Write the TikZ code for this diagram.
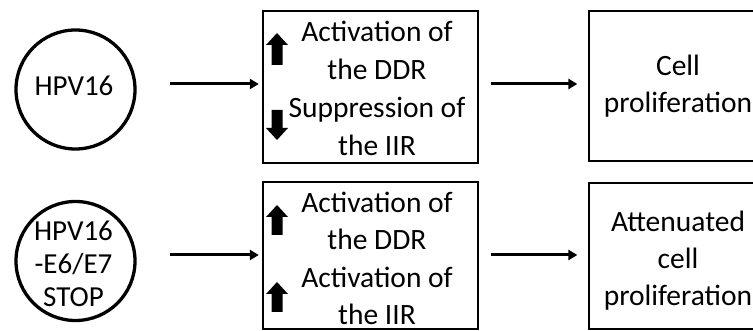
\documentclass[tikz,border=0pt]{standalone}
\usepackage{fontspec}
\setmainfont{Carlito}
\usetikzlibrary{arrows.meta}
\tikzset{
  circ/.style={circle, draw, line width=3.3pt, minimum size=119pt, inner sep=0pt},
  box/.style={rectangle, draw, line width=1.3pt, inner sep=0pt},
  txt/.style={align=center, inner sep=0pt, font=\fontsize{29.5}{38}\selectfont},
  ctxt/.style={align=center, inner sep=0pt, font=\fontsize{29}{33}\selectfont},
  conn/.style={line width=3pt, -{Triangle[length=9pt,width=10pt]}},
  pics/uparr/.style={code={\fill (0,0) -- (11,12) -- (5.5,12) -- (5.5,#1) -- (-5.5,#1) -- (-5.5,12) -- (-11,12) -- cycle;}},
  pics/dnarr/.style={code={\fill (0,0) -- (11,-12) -- (5.5,-12) -- (5.5,-#1) -- (-5.5,-#1) -- (-5.5,-12) -- (-11,-12) -- cycle;}}
}
\begin{document}
\begin{tikzpicture}[x=1pt,y=-1pt]
\useasboundingbox (0,0) rectangle (753,331);
\clip (0,0) rectangle (753,331);
\fill[white] (0,0) rectangle (753,331);
% row coordinates
\coordinate (row1) at (0,84);
\coordinate (row2) at (0,255);
% circles
\node[circ] (c1) at (75.5,89.5) {};
\node[ctxt] (c1t) at (74,86) {HPV16};
\node[circ] (c2) at (75.5,261) {};
\node[ctxt] (c2t) at (73.5,264) {HPV16\\-E6/E7\\STOP};
% middle boxes
\node[box, minimum width=215pt, minimum height=152pt] (b1) at (370.5,87) {};
\node[txt] (b1t) at (377,88.5) {Activation of\\the DDR\\Suppression of\\the IIR};
\node[box, minimum width=215pt, minimum height=147pt] (b2) at (370.5,255.5) {};
\node[txt, font=\fontsize{29.5}{37.5}\selectfont] (b2t) at (377,258.5) {Activation of\\the DDR\\Activation of\\the IIR};
% block arrows
\pic at (277,33) {uparr=32};
\pic at (277,140) {dnarr=30};
\pic at (277,205) {uparr=30};
\pic at (277,282) {uparr=30};
% right boxes
\node[box, minimum width=178pt, minimum height=150pt] (r1) at (678,86) {};
\node[txt, font=\fontsize{29.5}{37}\selectfont] (r1t) at (678,86.5) {Cell\\proliferation};
\node[box, minimum width=178pt, minimum height=146pt] (r2) at (678,256) {};
\node[txt, font=\fontsize{29.5}{37}\selectfont] (r2t) at (678,260.5) {Attenuated\\cell\\proliferation};
% connectors
\draw[conn, shorten <=33.5pt, shorten >=3.5pt] (c1.east |- row1) -- (b1.west |- row1);
\draw[conn, shorten <=33.5pt, shorten >=3.5pt] (c2.east |- row2) -- (b2.west |- row2);
\draw[conn, shorten <=12pt, shorten >=11pt] (b1.east |- row1) -- (r1.west |- row1);
\draw[conn, shorten <=12pt, shorten >=11pt] (b2.east |- row2) -- (r2.west |- row2);
\end{tikzpicture}
\end{document}
